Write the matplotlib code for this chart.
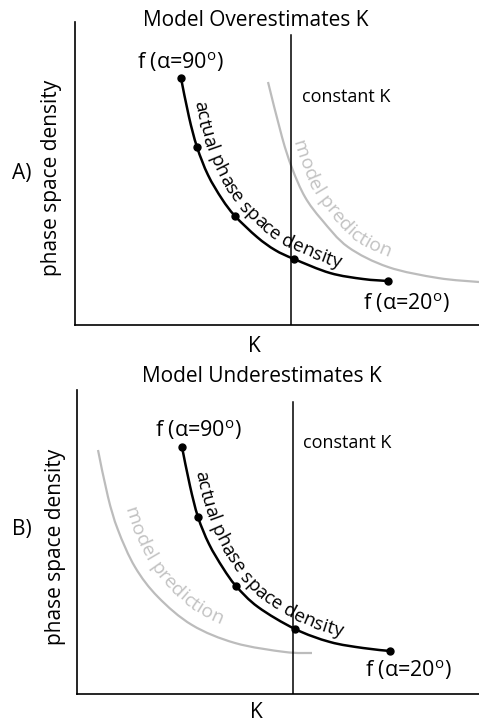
import numpy as np
import matplotlib
matplotlib.use("Agg")
import matplotlib.pyplot as plt
from matplotlib.path import Path
from matplotlib.patches import PathPatch
from matplotlib.font_manager import FontProperties

plt.rcParams['font.family'] = ['Open Sans', 'DejaVu Sans']
plt.rcParams['mathtext.fontset'] = 'custom'
plt.rcParams['mathtext.rm'] = 'Open Sans'
plt.rcParams['mathtext.it'] = 'Open Sans'

# ---------------- data (arbitrary K / phase-space-density units) ----------------
# Panel A: model overestimates K
A_actual_K   = [106, 114, 122, 133, 147, 160, 182, 200, 219, 255, 288, 313]
A_actual_f   = [247, 208, 178, 150, 126, 109, 88, 75, 66, 52, 46, 44]
A_actual_dots = [0, 2, 5, 8, 11]
A_model_K    = [193, 207, 217, 230, 247, 273, 313, 363, 404]
A_model_f    = [243, 188, 157, 128, 105, 78, 58, 47, 43]
A_constK     = 216
A_constK_top = 290

# Panel B: model underestimates K
B_actual_K   = [105, 113, 121, 132, 146, 159, 181, 218, 253, 286, 313]
B_actual_f   = [247, 208, 177, 150, 126, 108, 87, 65, 52, 46, 43]
B_actual_dots = [0, 2, 5, 7, 10]
B_model_K    = [21, 31, 41, 58, 81, 115, 158, 208, 235]
B_model_f    = [244, 197, 164, 127, 97, 69, 51, 42, 41]
B_constK     = 216
B_constK_top = 292

titles = ["Model Overestimates K", "Model Underestimates K"]
panel_tags = ["A)", "B)"]
ylabel = "phase space density"
xlabel = "K"
label_hi = r"f (α=90$^{\mathrm{o}}$)"
label_lo = r"f (α=20$^{\mathrm{o}}$)"
label_const = "constant K"
label_actual = "actual phase space density"
label_model = "model prediction"

GRAY = '#bcbcbc'
GRAY_TXT = '#c2c2c2'

W, H = 479, 723
fig = plt.figure(figsize=(W / 100, H / 100), dpi=100)
fig.patch.set_facecolor('white')


def rect(left, top, right, bottom):
    return [left / W, 1 - bottom / H, (right - left) / W, (bottom - top) / H]


def catmull_path(x, y):
    p = np.column_stack([x, y]).astype(float)
    n = len(p)
    verts = [p[0]]
    codes = [Path.MOVETO]
    for i in range(n - 1):
        p0 = p[i - 1] if i > 0 else p[i]
        p1, p2 = p[i], p[i + 1]
        p3 = p[i + 2] if i + 2 < n else p[i + 1]
        c1 = p1 + (p2 - p0) / 6.0
        c2 = p2 - (p3 - p1) / 6.0
        verts += [c1, c2, p2]
        codes += [Path.CURVE4] * 3
    return Path(np.array(verts), codes)


def dense_display(ax, path):
    v = ax.transData.transform(path.vertices)
    out = [v[0]]
    t = np.linspace(0, 1, 40)[1:, None]
    for i in range(1, len(v), 3):
        a, b, c, d = v[i - 1], v[i], v[i + 1], v[i + 2]
        seg = ((1 - t) ** 3) * a + 3 * ((1 - t) ** 2) * t * b + 3 * (1 - t) * t ** 2 * c + t ** 3 * d
        out.extend(seg)
    return np.array(out)


def text_on_curve(ax, path, text, start_pt, offset, size, color):
    renderer = fig.canvas.get_renderer()
    prop = FontProperties(family=['Open Sans', 'DejaVu Sans'], size=size)
    pts = dense_display(ax, path)
    tang = np.gradient(pts, axis=0)
    tang /= np.linalg.norm(tang, axis=1)[:, None]
    normal = np.column_stack([-tang[:, 1], tang[:, 0]])
    off = pts + normal * offset
    seg = np.linalg.norm(np.diff(off, axis=0), axis=1)
    s = np.concatenate([[0], np.cumsum(seg)])
    sp = ax.transData.transform(start_pt)
    i0 = np.argmin(np.linalg.norm(pts - sp, axis=1))
    s0 = s[i0]
    base = renderer.get_text_width_height_descent("xx", prop, ismath=False)[0]
    widths = [renderer.get_text_width_height_descent("x" + ch + "x", prop, ismath=False)[0] - base
              for ch in text]
    cur = s0
    inv = ax.transData.inverted()
    for ch, w in zip(text, widths):
        sc = cur + w / 2
        cur += w
        if ch == ' ':
            continue
        xp = np.interp(sc, s, off[:, 0])
        yp = np.interp(sc, s, off[:, 1])
        tx = np.interp(sc, s, tang[:, 0])
        ty = np.interp(sc, s, tang[:, 1])
        ang = np.degrees(np.arctan2(ty, tx))
        xd, yd = inv.transform((xp, yp))
        ax.text(xd, yd, ch, fontproperties=prop, color=color, rotation=ang,
                rotation_mode='anchor', ha='center', va='baseline')


def panel(ax, xmax, ymax, aK, af, dots, mK, mf, constK, constTop,
          start_actual, start_model, off_model):
    ax.set_xlim(0, xmax)
    ax.set_ylim(0, ymax)
    for sname in ['top', 'right']:
        ax.spines[sname].set_visible(False)
    for sname in ['left', 'bottom']:
        ax.spines[sname].set_linewidth(1.2)
    ax.set_xticks([])
    ax.set_yticks([])
    ax.patch.set_alpha(0)
    ax.plot([constK, constK], [0, constTop], color='k', lw=1.1)
    mp = catmull_path(mK, mf)
    ax.add_patch(PathPatch(mp, facecolor='none', edgecolor=GRAY, lw=1.6))
    ap = catmull_path(aK, af)
    ax.add_patch(PathPatch(ap, facecolor='none', edgecolor='k', lw=1.8))
    ax.plot(np.array(aK)[dots], np.array(af)[dots], 'o', color='k', ms=5)
    text_on_curve(ax, ap, label_actual, start_actual, 8, 13.6, 'k')
    text_on_curve(ax, mp, label_model, start_model, off_model, 14, GRAY_TXT)


axA = fig.add_axes(rect(75, 22, 479, 325))
panel(axA, 404, 303, A_actual_K, A_actual_f, A_actual_dots, A_model_K, A_model_f,
      A_constK, A_constK_top, (112, 222), (209, 180), 9)

axB = fig.add_axes(rect(77, 390, 479, 694))
panel(axB, 402, 304, B_actual_K, B_actual_f, B_actual_dots, B_model_K, B_model_f,
      B_constK, B_constK_top, (110, 221), (35, 182), 13)


def ft(px, py, s, **kw):
    fig.text(px / W, 1 - py / H, s, **kw)


big = 15
for (tx, ty), title in zip([(256, 20), (262, 377)], titles):
    ft(tx, ty, title, ha='center', va='center', fontsize=big)
for (tx, ty), tag in zip([(22, 173), (22, 530)], panel_tags):
    ft(tx, ty, tag, ha='center', va='center', fontsize=big)
for (tx, ty) in [(52, 178), (55, 547)]:
    ft(tx, ty, ylabel, ha='center', va='center', rotation=90, fontsize=big)
for (tx, ty) in [(254, 346), (256, 712)]:
    ft(tx, ty, xlabel, ha='center', va='center', fontsize=big)
for (tx, ty) in [(180, 62), (198, 430)]:
    ft(tx, ty, label_hi, ha='center', va='center', fontsize=15.5)
for (tx, ty) in [(406, 303), (408, 670)]:
    ft(tx, ty, label_lo, ha='center', va='center', fontsize=15.5)
for (tx, ty) in [(302, 97), (303, 443)]:
    ft(tx, ty, label_const, ha='left', va='center', fontsize=13)

fig.savefig("out.png", dpi=100, facecolor='white')
